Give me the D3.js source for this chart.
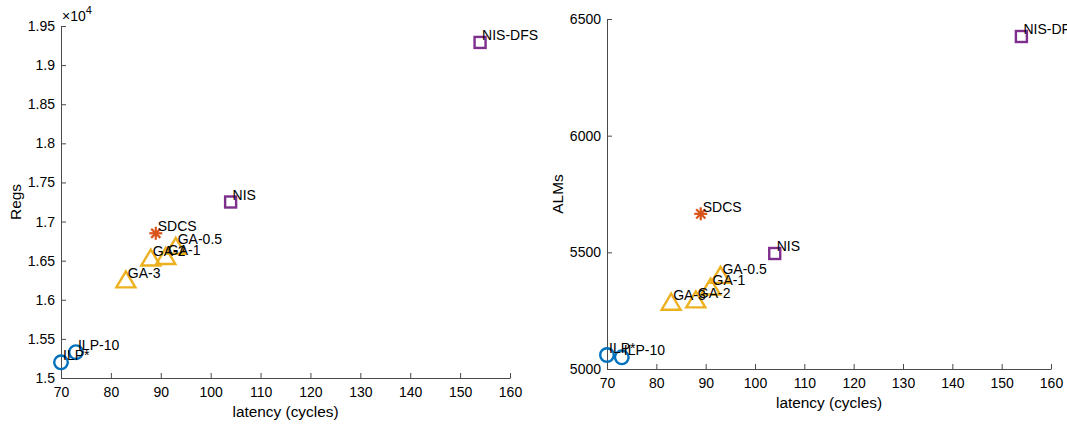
<!DOCTYPE html>
<html><head><meta charset="utf-8">
<script src="https://cdn.jsdelivr.net/npm/d3@7"></script>
<style>
body{margin:0;background:#fff;}
svg{display:block;font-family:"Liberation Sans",Arial,Helvetica,sans-serif;}
</style></head>
<body><svg id="c" width="1067" height="427"></svg>
<script>
const labels  = ["ILP*","ILP-10","GA-3","GA-2","GA-1","GA-0.5","SDCS","NIS","NIS-DFS"];
const markers = ["circle","circle","triangle","triangle","triangle","triangle","star","square","square"];
const latency = [70, 73, 83, 88, 91, 93, 89, 104, 154];
const regs    = [15200, 15330, 16250, 16530, 16550, 16680, 16850, 17250, 19290];
const alms    = [5060, 5050, 5285, 5295, 5350, 5400, 5665, 5495, 6425];
const xTicks  = [70,80,90,100,110,120,130,140,150,160];
const regTicks = [1.5,1.55,1.6,1.65,1.7,1.75,1.8,1.85,1.9,1.95];
const almTicks = [5000,5500,6000,6500];
const colors = {circle:"#0072BD", triangle:"#EDB120", star:"#D95319", square:"#7E2F8E"};

const svg = d3.select("#c");
const axisColor = "#4a4a4a";

function panel(opt){
  const x = d3.scaleLinear().domain([70,160]).range([opt.x0,opt.x1]);
  const y = d3.scaleLinear().domain(opt.ydom).range([opt.y1,opt.y0]);
  const g = svg.append("g");
  const ax = g.append("g").attr("transform",`translate(0,${opt.y1})`)
    .call(d3.axisBottom(x).tickValues(xTicks).tickSizeInner(-5).tickSizeOuter(0).tickPadding(9));
  const ay = g.append("g").attr("transform",`translate(${opt.x0},0)`)
    .call(d3.axisLeft(y).tickValues(opt.yticks).tickSizeInner(-5).tickSizeOuter(0).tickPadding(6).tickFormat(opt.fmt));
  [ax,ay].forEach(a=>{
    a.selectAll("path.domain").attr("stroke",axisColor).attr("stroke-width",1);
    a.selectAll(".tick line").attr("stroke",axisColor).attr("stroke-width",1);
    a.selectAll(".tick text").attr("fill","#000").attr("font-size",14).attr("font-family","Liberation Sans, Arial, sans-serif");
  });
  g.append("text").attr("x",(opt.x0+opt.x1)/2).attr("y",opt.y1+39).attr("text-anchor","middle")
    .attr("font-size",15.4).attr("fill","#000").text("latency (cycles)");
  g.append("text").attr("transform",`translate(${opt.ylabX},${(opt.y0+opt.y1)/2}) rotate(-90)`)
    .attr("text-anchor","middle").attr("font-size",15.4).attr("fill","#000").text(opt.ylabel);
  if(opt.exp){
    const t = g.append("text").attr("x",opt.x0+1).attr("y",opt.y0-5).attr("font-size",14).attr("fill","#000");
    t.append("tspan").text("\u00d710");
    t.append("tspan").attr("dy",-7).attr("font-size",11).text("4");
  }
  const vals = opt.vals;
  labels.forEach((lab,i)=>{
    const px = x(latency[i]), py = y(vals[i]);
    const m = markers[i], c = colors[m];
    if(m==="circle"){
      g.append("circle").attr("cx",px).attr("cy",py).attr("r",6.8).attr("fill","none").attr("stroke",c).attr("stroke-width",2.4);
    } else if(m==="triangle"){
      const w=9.5, h=16;
      g.append("path").attr("d",`M${px},${py-h*0.55}L${px+w},${py+h*0.45}L${px-w},${py+h*0.45}Z`)
        .attr("fill","none").attr("stroke",c).attr("stroke-width",2.4).attr("stroke-linejoin","miter");
    } else if(m==="square"){
      g.append("rect").attr("x",px-5.5).attr("y",py-5.5).attr("width",11).attr("height",11)
        .attr("fill","none").attr("stroke",c).attr("stroke-width",2.4);
    } else if(m==="star"){
      const r=6.5, d=r*0.7071;
      const segs=[[0,-r,0,r],[-r,0,r,0],[-d,-d,d,d],[-d,d,d,-d]];
      segs.forEach(s=>g.append("line").attr("x1",px+s[0]).attr("y1",py+s[1]).attr("x2",px+s[2]).attr("y2",py+s[3])
        .attr("stroke",c).attr("stroke-width",2.2));
    }
  });
  labels.forEach((lab,i)=>{
    const px = x(latency[i]), py = y(vals[i]);
    g.append("text").attr("x",px+2).attr("y",py-7).attr("dy","0.35em").attr("font-size",14).attr("fill","#000").text(lab);
  });
}

panel({x0:61,x1:510,y0:26,y1:378,ydom:[15000,19500],yticks:regTicks.map(v=>v*1e4),
  fmt:v=>String(+(v/1e4).toFixed(2)),ylabel:"Regs",ylabX:21,vals:regs,exp:true});
panel({x0:607,x1:1051,y0:19,y1:369,ydom:[5000,6500],yticks:almTicks,
  fmt:d3.format("d"),ylabel:"ALMs",ylabX:563,vals:alms,exp:false});
</script></body></html>
